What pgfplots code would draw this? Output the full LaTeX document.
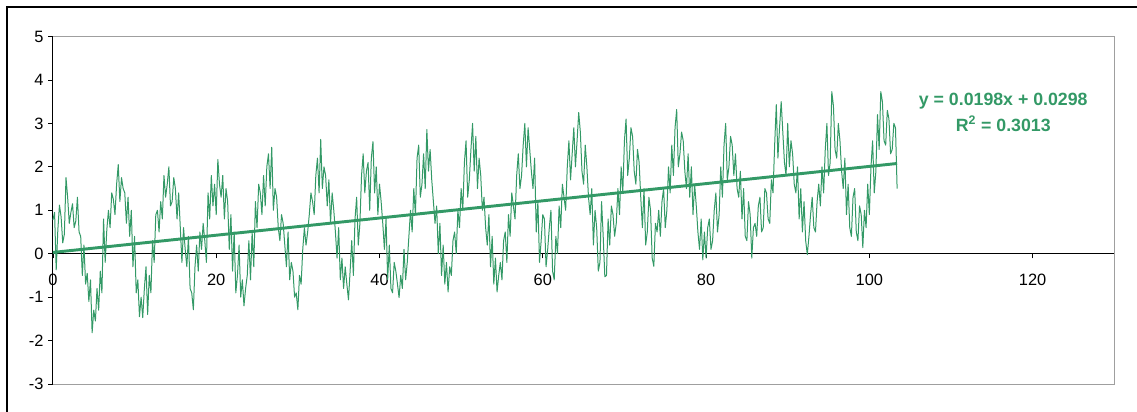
\documentclass[border=0pt]{standalone}
\usepackage{fontspec}
\setmainfont{Liberation Sans}
\usepackage{pgfplots}
\pgfplotsset{compat=1.18}
\definecolor{xlgreen}{RGB}{51,153,102}
\begin{document}
\begin{tikzpicture}
\useasboundingbox (0pt,0pt) rectangle (852.75pt,308.25pt);
\draw[black, line width=0.9pt] (5.25pt,-20pt) -- (5.25pt,303pt) -- (870pt,303pt);
\begin{axis}[
  at={(39.7pt,20.2pt)}, anchor=south west,
  scale only axis, width=796pt, height=260.7pt,
  xmin=0, xmax=130, ymin=-3, ymax=5,
  axis x line=middle, axis y line=left,
  axis line style={-, black, line width=0.75pt},
  hide obscured x ticks=false, hide obscured y ticks=false,
  tick align=outside,
  xtick={0,20,...,120}, xticklabels={0,20,40,60,80,100,120},
  ytick={-3,...,5}, yticklabels={-3,-2,-1,0,1,2,3,4,5},
  major tick length=3.5pt,
  tick style={black, line width=0.6pt},
  tick label style={font=\fontsize{12.3}{14}\selectfont},
  x tick label style={yshift=-8pt},
  clip=false,
]
\addplot[xlgreen, line width=0.75pt, line join=round] coordinates {
(0,0.78)(0.2,0.95)(0.4,-0.37)(0.6,0.55)(0.8,1.12)(1,0.85)(1.2,0.25)(1.4,0.45)(1.6,1.75)(1.8,1.3)
(2,0.7)(2.2,0.95)(2.4,1.15)(2.6,0.6)(2.8,0.75)(3,1.3)(3.2,0.5)(3.4,0.4)(3.6,-0.5)(3.8,0.2)
(4,-0.7)(4.2,-0.45)(4.4,-1.1)(4.6,-0.6)(4.8,-1.82)(5,-1.3)(5.2,-1.55)(5.4,-0.8)(5.6,-1.3)(5.8,-0.4)
(6,-0.9)(6.2,0.8)(6.4,-0.2)(6.6,0.55)(6.8,1.0)(7,0.6)(7.2,1.4)(7.4,1.25)(7.6,0.9)(7.8,1.6)
(8,2.05)(8.2,1.2)(8.4,1.75)(8.6,1.5)(8.8,1.4)(9,0.7)(9.2,1.3)(9.4,0.4)(9.6,1.0)(9.8,-0.3)
(10,0.4)(10.2,-0.9)(10.4,-0.6)(10.6,-1.45)(10.8,-1.0)(11,-1.47)(11.2,-0.8)(11.4,-0.3)(11.6,-1.4)(11.8,-0.5)
(12,-0.9)(12.2,0.3)(12.4,-0.2)(12.6,0.9)(12.8,1.0)(13,0.5)(13.2,1.2)(13.4,0.8)(13.6,1.8)(13.8,1.3)
(14,1.6)(14.2,2.0)(14.4,1.1)(14.6,1.2)(14.8,1.75)(15,1.5)(15.2,0.8)(15.4,1.4)(15.6,0.6)(15.8,-0.2)
(16,0.6)(16.2,0.1)(16.4,-0.3)(16.6,0.4)(16.8,-0.8)(17,-0.9)(17.2,-1.29)(17.4,-0.3)(17.6,0.2)(17.8,-0.4)
(18,0.5)(18.2,0.1)(18.4,0.7)(18.6,0.3)(18.8,-0.2)(19,1.4)(19.2,0.8)(19.4,1.8)(19.6,1.1)(19.8,1.6)
(20,0.9)(20.2,2.17)(20.4,1.6)(20.6,1.3)(20.8,1.8)(21,0.8)(21.2,1.5)(21.4,1.2)(21.6,0.1)(21.8,0.9)
(22,-0.4)(22.2,0.5)(22.4,-0.9)(22.6,-0.5)(22.8,0.2)(23,-1.0)(23.2,-0.6)(23.4,-1.2)(23.6,-0.8)(23.8,-0.5)
(24,0.3)(24.2,-0.6)(24.4,0.5)(24.6,-0.3)(24.8,1.2)(25,0.6)(25.2,1.6)(25.4,1.4)(25.6,0.9)(25.8,1.8)
(26,1.1)(26.2,2.0)(26.4,2.3)(26.6,1.5)(26.8,2.45)(27,1.0)(27.2,1.5)(27.4,1.3)(27.6,0.6)(27.8,0.3)
(28,0.9)(28.2,0.7)(28.4,0.2)(28.6,-0.3)(28.8,0.5)(29,-0.6)(29.2,-0.2)(29.4,-0.4)(29.6,-1.0)(29.8,-0.9)
(30,-1.29)(30.2,-0.5)(30.4,-0.7)(30.6,0.1)(30.8,0.6)(31,0.2)(31.2,0.5)(31.4,0.9)(31.6,1.4)(31.8,1.2)
(32,0.9)(32.2,1.8)(32.4,2.2)(32.6,1.4)(32.8,2.63)(33,1.5)(33.2,2.0)(33.4,1.8)(33.6,1.1)(33.8,1.7)
(34,0.7)(34.2,1.4)(34.4,1.0)(34.6,0.5)(34.8,-0.1)(35,0.6)(35.2,-0.6)(35.4,-0.1)(35.6,-0.8)(35.8,-0.3)
(36,-0.7)(36.2,-1.06)(36.4,-0.4)(36.6,0.3)(36.8,-0.5)(37,0.8)(37.2,1.3)(37.4,0.2)(37.6,0.7)(37.8,1.8)
(38,2.3)(38.2,1.4)(38.4,1.9)(38.6,2.1)(38.8,1.0)(39,2.2)(39.2,2.58)(39.4,1.4)(39.6,2.0)(39.8,0.9)
(40,1.6)(40.2,1.2)(40.4,0.7)(40.6,0.1)(40.8,0.8)(41,-0.6)(41.2,0.2)(41.4,-0.8)(41.6,-0.9)(41.8,-0.2)
(42,-0.4)(42.2,-0.7)(42.4,-1.01)(42.6,-0.5)(42.8,-0.8)(43,0.1)(43.2,-0.6)(43.4,-0.2)(43.6,0.4)(43.8,1.0)
(44,0.5)(44.2,1.5)(44.4,0.9)(44.6,2.2)(44.8,2.5)(45,1.3)(45.2,1.6)(45.4,2.3)(45.6,1.5)(45.8,2.86)
(46,1.9)(46.2,2.4)(46.4,1.7)(46.6,1.2)(46.8,0.7)(47,1.1)(47.2,0.0)(47.4,0.7)(47.6,-0.5)(47.8,0.2)
(48,-0.7)(48.2,-0.2)(48.4,-0.88)(48.6,-0.3)(48.8,-0.5)(49,0.3)(49.2,0.5)(49.4,0.0)(49.6,1.0)(49.8,0.6)
(50,1.5)(50.2,1.0)(50.4,2.1)(50.6,2.6)(50.8,1.3)(51,1.7)(51.2,2.4)(51.4,3.0)(51.6,1.9)(51.8,2.7)
(52,1.5)(52.2,2.2)(52.4,1.8)(52.6,1.0)(52.8,1.3)(53,0.6)(53.2,0.2)(53.4,0.9)(53.6,-0.3)(53.8,0.4)
(54,-0.7)(54.2,-0.1)(54.4,-0.88)(54.6,-0.5)(54.8,-0.2)(55,-0.6)(55.2,0.3)(55.4,0.5)(55.6,-0.2)(55.8,0.9)
(56,0.4)(56.2,1.4)(56.4,1.1)(56.6,0.8)(56.8,1.8)(57,2.3)(57.2,1.5)(57.4,1.8)(57.6,2.5)(57.8,3.0)
(58,2.0)(58.2,2.9)(58.4,2.4)(58.6,1.9)(58.8,1.5)(59,2.2)(59.2,0.5)(59.4,1.2)(59.6,-0.2)(59.8,0.3)
(60,0.9)(60.2,0.8)(60.4,-0.3)(60.6,0.1)(60.8,0.6)(61,1.0)(61.2,-0.4)(61.4,-0.6)(61.6,0.4)(61.8,0.0)
(62,1.1)(62.2,0.6)(62.4,1.6)(62.6,1.3)(62.8,1.0)(63,2.0)(63.2,2.6)(63.4,1.7)(63.6,2.3)(63.8,2.9)
(64,2.0)(64.2,2.6)(64.4,3.25)(64.6,2.8)(64.8,1.9)(65,1.6)(65.2,2.5)(65.4,2.0)(65.6,1.3)(65.8,0.9)
(66,1.5)(66.2,0.2)(66.4,1.0)(66.6,0.6)(66.8,-0.4)(67,-0.2)(67.2,1.2)(67.4,0.4)(67.6,-0.53)(67.8,-0.5)
(68,0.8)(68.2,0.2)(68.4,1.1)(68.6,0.9)(68.8,0.4)(69,0.7)(69.2,1.5)(69.4,0.9)(69.6,2.0)(69.8,1.4)
(70,2.6)(70.2,3.1)(70.4,1.8)(70.6,2.2)(70.8,2.9)(71,2.7)(71.2,1.9)(71.4,1.6)(71.6,2.4)(71.8,2.1)
(72,1.3)(72.2,0.6)(72.4,1.5)(72.6,0.2)(72.8,0.5)(73,1.3)(73.2,1.0)(73.4,-0.1)(73.6,-0.29)(73.8,0.7)
(74,0.5)(74.2,1.0)(74.4,0.4)(74.6,1.2)(74.8,1.5)(75,0.6)(75.2,1.0)(75.4,2.0)(75.6,1.4)(75.8,2.5)
(76,1.8)(76.2,2.9)(76.4,3.32)(76.6,2.0)(76.8,2.3)(77,2.8)(77.2,2.6)(77.4,1.9)(77.6,1.5)(77.8,2.3)
(78,1.3)(78.2,2.0)(78.4,0.9)(78.6,1.6)(78.8,1.1)(79,0.5)(79.2,0.1)(79.4,0.8)(79.6,-0.14)(79.8,0.5)
(80,-0.1)(80.2,0.6)(80.4,0.8)(80.6,0.1)(80.8,0.3)(81,1.0)(81.2,1.4)(81.4,0.5)(81.6,0.9)(81.8,2.0)
(82,1.3)(82.2,2.5)(82.4,3.0)(82.6,1.7)(82.8,2.0)(83,2.7)(83.2,2.5)(83.4,1.8)(83.6,2.3)(83.8,1.5)
(84,1.3)(84.2,1.9)(84.4,0.8)(84.6,1.5)(84.8,0.4)(85,0.3)(85.2,1.2)(85.4,0.9)(85.6,-0.1)(85.8,0.6)
(86,0.7)(86.2,0.4)(86.4,1.1)(86.6,1.3)(86.8,0.5)(87,0.6)(87.2,1.5)(87.4,1.4)(87.6,0.8)(87.8,0.7)
(88,1.7)(88.2,1.4)(88.4,2.5)(88.6,3.43)(88.8,2.2)(89,2.9)(89.2,3.5)(89.4,2.8)(89.6,2.1)(89.8,1.8)
(90,3.0)(90.2,2.0)(90.4,2.6)(90.6,2.3)(90.8,1.6)(91,1.4)(91.2,2.0)(91.4,0.8)(91.6,1.5)(91.8,0.5)
(92,1.2)(92.2,0.3)(92.4,-0.02)(92.6,0.4)(92.8,0.9)(93,1.3)(93.2,0.6)(93.4,0.5)(93.6,1.2)(93.8,1.6)
(94,1.1)(94.2,2.0)(94.4,1.4)(94.6,2.4)(94.8,3.0)(95,1.8)(95.2,2.1)(95.4,3.73)(95.6,3.4)(95.8,2.4)
(96,2.2)(96.2,3.0)(96.4,2.6)(96.6,1.9)(96.8,1.5)(97,2.2)(97.2,0.9)(97.4,1.6)(97.6,0.6)(97.8,0.4)
(98,1.3)(98.2,1.5)(98.4,0.5)(98.6,0.3)(98.8,1.1)(99,0.9)(99.2,0.14)(99.4,1.0)(99.6,0.6)(99.8,1.6)
(100,0.9)(100.2,2.0)(100.4,2.6)(100.6,1.4)(100.8,1.9)(101,3.2)(101.2,2.4)(101.4,3.73)(101.6,3.5)(101.8,2.6)
(102,2.5)(102.2,3.3)(102.4,3.1)(102.6,2.3)(102.8,2.4)(103,3.0)(103.2,2.9)(103.4,1.5)
};
\addplot[xlgreen, line width=2.2pt] coordinates {(0,0.0298)(103.4,2.077)};
\draw[gray!75, line width=0.75pt] (rel axis cs:0,0) -- (rel axis cs:1,0) -- (rel axis cs:1,1) -- (rel axis cs:0,1);
\node[font=\bfseries\fontsize{13.3}{19.5}\selectfont, text=xlgreen, align=center] at (axis cs:116.4,3.25) {y = 0.0198x + 0.0298\\R\textsuperscript{2} = 0.3013};
\end{axis}
\end{tikzpicture}
\end{document}
